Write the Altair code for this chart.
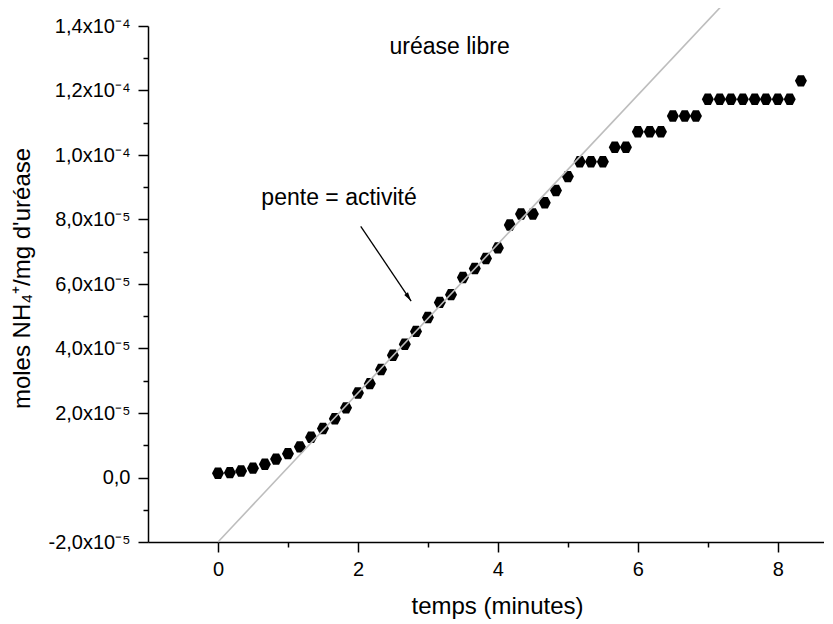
import altair as alt
import pandas as pd

# ---- data ----
time_min = [0.00, 0.17, 0.33, 0.50, 0.67, 0.83, 1.00, 1.17, 1.33, 1.50,
            1.67, 1.83, 2.00, 2.17, 2.33, 2.50, 2.67, 2.83, 3.00, 3.17,
            3.33, 3.50, 3.67, 3.83, 4.00, 4.17, 4.33, 4.50, 4.67, 4.83,
            5.00, 5.17, 5.33, 5.50, 5.67, 5.83, 6.00, 6.17, 6.33, 6.50,
            6.67, 6.83, 7.00, 7.17, 7.33, 7.50, 7.67, 7.83, 8.00, 8.17,
            8.33]
moles = [1.3e-6, 1.5e-6, 2.0e-6, 2.9e-6, 4.1e-6, 5.7e-6, 7.4e-6, 9.5e-6,
         12.5e-6, 15.2e-6, 18.2e-6, 21.6e-6, 26.2e-6, 29.1e-6, 33.5e-6,
         37.9e-6, 41.3e-6, 45.3e-6, 49.6e-6, 54.3e-6, 56.7e-6, 62.0e-6,
         64.8e-6, 67.9e-6, 71.2e-6, 78.3e-6, 81.7e-6, 81.7e-6, 85.2e-6,
         89.0e-6, 93.3e-6, 97.9e-6, 97.9e-6, 97.9e-6, 102.4e-6, 102.4e-6,
         107.2e-6, 107.2e-6, 107.2e-6, 112.1e-6, 112.1e-6, 112.1e-6,
         117.3e-6, 117.3e-6, 117.3e-6, 117.3e-6, 117.3e-6, 117.3e-6,
         117.3e-6, 117.3e-6, 123.0e-6]

# linear fit (slope = activity)
fit_t = [0.0, 7.2]
fit_v = [-2.0e-5, 1.463e-4]

# annotation arrow (start, end)
arrow_t = [2.04, 2.76]
arrow_v = [77.9e-6, 54.7e-6]

# annotation texts
note_labels = ["uréase libre", "pente = activité"]
note_t = [3.31, 1.73]
note_v = [133.5e-6, 86.6e-6]

x_ticks = [0, 1, 2, 3, 4, 5, 6, 7, 8]
y_ticks = [-2e-5, -1e-5, 0.0, 1e-5, 2e-5, 3e-5, 4e-5, 5e-5, 6e-5, 7e-5,
           8e-5, 9e-5, 1e-4, 1.1e-4, 1.2e-4, 1.3e-4, 1.4e-4]
y_major_n = [-2, 0, 2, 4, 6, 8, 10, 12, 14]  # value * 1e5
y_major_labels = ["-2,0x10⁻⁵", "0,0", "2,0x10⁻⁵", "4,0x10⁻⁵", "6,0x10⁻⁵",
                  "8,0x10⁻⁵", "1,0x10⁻⁴", "1,2x10⁻⁴", "1,4x10⁻⁴"]

x_title = "temps (minutes)"
y_title = "moles NH₄⁺/mg d'uréase"

FONT = "Liberation Sans"
W, H = 676, 516

df = pd.DataFrame({"t": time_min, "v": moles})
fit_df = pd.DataFrame({"t": fit_t, "v": fit_v})
arrow_df = pd.DataFrame({"t": [arrow_t[0]], "v": [arrow_v[0]],
                         "t2": [arrow_t[1]], "v2": [arrow_v[1]]})
head_df = pd.DataFrame({"t": [arrow_t[1]], "v": [arrow_v[1]]})
note_df = pd.DataFrame({"t": note_t, "v": note_v, "label": note_labels})

xscale = alt.Scale(domain=[-1, 8.66], nice=False, zero=False)
yscale = alt.Scale(domain=[-2e-5, 1.4e-4], nice=False, zero=False)

y_expr = ""
for n, lab in zip(y_major_n, y_major_labels):
    y_expr += f"round(datum.value*1e5)==={n} ? '{lab}' : "
y_expr += "''"

x_axis = alt.Axis(
    values=x_ticks, title=x_title, grid=False,
    labelExpr="datum.value % 2 === 0 ? datum.label : ''",
    tickSize={"condition": {"test": "datum.value % 2 !== 0", "value": 5}, "value": 10},
    tickColor="black", tickWidth=1.5, domainColor="black", domainWidth=1.5,
    labelFont=FONT, labelFontSize=20, labelColor="black", labelPadding=7,
    titleFont=FONT, titleFontSize=24, titleFontWeight="normal", titleColor="black",
    titleX=349, titleY=64, titleBaseline="middle", titleAlign="center",
)
y_axis = alt.Axis(
    values=y_ticks, title=y_title, grid=False,
    labelExpr=y_expr,
    tickSize={"condition": {"test": "round(datum.value*1e5) % 2 !== 0", "value": 5}, "value": 10},
    tickColor="black", tickWidth=1.5, domainColor="black", domainWidth=1.5,
    labelFont=FONT, labelFontSize=20, labelColor="black", labelPadding=8,
    titleFont=FONT, titleFontSize=24, titleFontWeight="normal", titleColor="black",
    titleX=-126, titleY=252, titleBaseline="middle", titleAlign="center", titleAngle=270,
)

HEX = "M-1,0L-0.5,-0.95L0.5,-0.95L1,0L0.5,0.95L-0.5,0.95Z"
ARROW = "M0,0L-0.5,2L0.5,2Z"

X = alt.X("t:Q", scale=xscale, axis=x_axis)
Y = alt.Y("v:Q", scale=yscale, axis=y_axis)

points = alt.Chart(df).mark_point(
    shape=HEX, filled=True, size=144, color="black", opacity=1
).encode(x=X, y=Y)

fit = alt.Chart(fit_df).mark_line(color="#bdbdbd", strokeWidth=1.6).encode(x=X, y=Y)

arrow = alt.Chart(arrow_df).mark_rule(color="black", strokeWidth=1.3).encode(
    x=X, y=Y, x2="t2:Q", y2="v2:Q",
)

head = alt.Chart(head_df).mark_point(
    shape=ARROW, filled=True, size=81, color="black", opacity=1, angle=146
).encode(x=X, y=Y)

notes = alt.Chart(note_df).mark_text(
    font=FONT, fontSize=23, color="black", align="center", baseline="middle"
).encode(x=X, y=Y, text="label:N")

chart = alt.layer(points, fit, arrow, head, notes).properties(
    width=W, height=H,
    autosize=alt.AutoSizeParams(type="none"),
    padding={"left": 140, "top": 18, "right": 0, "bottom": 80},
    background="white",
).configure_view(stroke=None)

chart.save("out.html", embed_options={"renderer": "svg", "actions": False})
